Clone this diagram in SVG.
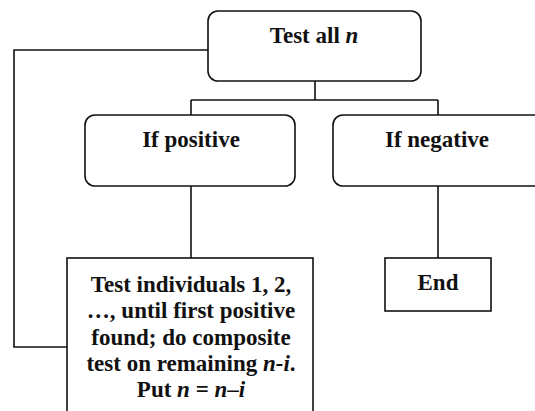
<svg xmlns="http://www.w3.org/2000/svg" width="535" height="411" viewBox="0 0 535 411">
<style>
.box{fill:#fff;stroke:#111;stroke-width:1.6}
.ln{fill:none;stroke:#111;stroke-width:1.6}
.t{font-weight:bold;font-size:23px;fill:#111;text-anchor:middle}
.it{font-style:italic}
</style>
<rect width="535" height="411" fill="#fff"/>
<g id="connectors">
<path class="ln" d="M208,50 H14 V347 H67"/>
<path class="ln" d="M315,81 V100 M191,100 H438 M191,100 V115 M438,100 V115"/>
<path class="ln" d="M191,186 V258"/>
<path class="ln" d="M438,186 V258"/>
</g>
<g font-family="Liberation Serif, Tinos, DejaVu Serif, serif">
<g id="test-all">
<rect class="box" x="208" y="11" width="213" height="70" rx="10"/>
<text class="t" x="314" y="43">Test all <tspan class="it">n</tspan></text>
</g>
<g id="if-positive">
<rect class="box" x="85" y="115" width="210" height="71" rx="10"/>
<text class="t" x="191" y="147">If positive</text>
</g>
<g id="if-negative">
<rect class="box" x="333" y="115" width="220" height="71" rx="10"/>
<text class="t" x="437" y="147">If negative</text>
</g>
<g id="test-individuals">
<rect class="box" x="67" y="258" width="246" height="170"/>
<text class="t" x="191" y="292">Test individuals 1, 2,</text>
<text class="t" x="191" y="318">…, until first positive</text>
<text class="t" x="191" y="345">found; do composite</text>
<text class="t" x="191" y="371">test on remaining <tspan class="it">n-i</tspan>.</text>
<text class="t" x="191" y="397">Put <tspan class="it">n</tspan> = <tspan class="it">n</tspan>–<tspan class="it">i</tspan></text>
</g>
<g id="end">
<rect class="box" x="385" y="258" width="106" height="53"/>
<text class="t" x="438" y="290">End</text>
</g>
</g>
</svg>
